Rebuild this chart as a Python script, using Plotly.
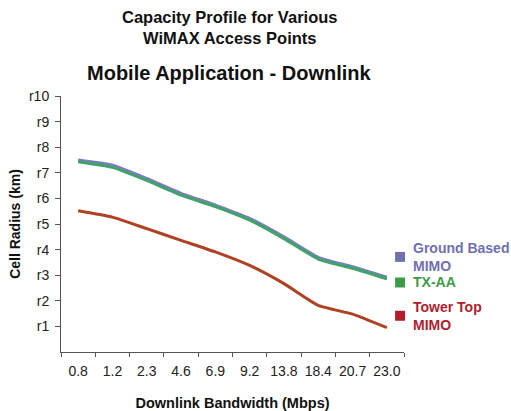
import plotly.graph_objects as go

# Downlink bandwidth categories (Mbps)
bandwidth = ["0.8", "1.2", "2.3", "4.6", "6.9", "9.2", "13.8", "18.4", "20.7", "23.0"]

# Cell radius (relative units r1..r10) per access point type
ground_based_mimo = [7.50, 7.30, 6.78, 6.20, 5.74, 5.22, 4.50, 3.70, 3.33, 2.92]
tx_aa = [7.43, 7.21, 6.70, 6.13, 5.68, 5.15, 4.43, 3.63, 3.27, 2.86]
tower_top_mimo = [5.52, 5.27, 4.82, 4.36, 3.91, 3.38, 2.67, 1.82, 1.48, 0.95]

y_ticks = list(range(1, 11))
y_tick_labels = [f"r{i}" for i in y_ticks]

series = [
    ("Ground Based<br>MIMO", ground_based_mimo, "#7c7cc0", "#7070b0"),
    ("TX-AA", tx_aa, "#3fa36a", "#3d9b47"),
    ("Tower Top<br>MIMO", tower_top_mimo, "#ae4222", "#b01e2e"),
]

fig = go.Figure()
for name, vals, line_col, _ in series:
    fig.add_trace(go.Scatter(
        x=bandwidth, y=vals, mode="lines", name=name,
        line=dict(color=line_col, width=3, shape="spline", smoothing=0.5),
        showlegend=False, hoverinfo="x+y",
    ))

font = "Liberation Sans, Arial, sans-serif"

# Legend drawn as coloured squares with labels beside the line ends
legend_y = [0.37, 0.27, 0.14]
for (name, _, _, col), ly in zip(series, legend_y):
    fig.add_shape(type="rect", xref="paper", yref="paper",
                  x0=1.0 - 0.026, x1=1.003, y0=ly - 0.018, y1=ly + 0.021,
                  fillcolor=col, line=dict(width=0))
    fig.add_annotation(xref="paper", yref="paper", x=1.02, y=ly + 0.002,
                       text=f"<b>{name}</b>", showarrow=False, xanchor="left",
                       yanchor="middle", align="left",
                       font=dict(family=font, size=14, color=col))

fig.add_annotation(xref="paper", yref="paper", x=0.49, y=1.268,
                   text="<b>Capacity Profile for Various<br>WiMAX Access Points</b>",
                   showarrow=False, xanchor="center", yanchor="middle",
                   font=dict(family=font, size=16.5, color="#111"))
fig.add_annotation(xref="paper", yref="paper", x=0.49, y=1.09,
                   text="<b>Mobile Application - Downlink</b>",
                   showarrow=False, xanchor="center", yanchor="middle",
                   font=dict(family=font, size=20, color="#111"))

fig.update_layout(
    width=511, height=411,
    margin=dict(l=61, r=107, t=96, b=59),
    plot_bgcolor="white", paper_bgcolor="white",
    font=dict(family=font, size=14, color="#222"),
    xaxis=dict(
        type="category", range=[-0.5, 9.5], tickson="boundaries",
        ticks="outside", ticklen=4, ticklabelstandoff=6, tickangle=0,
        automargin=False,
        tickcolor="#555", showline=True, linecolor="#555", linewidth=1,
        showgrid=False, zeroline=False,
        title=dict(text="<b>Downlink Bandwidth (Mbps)</b>", standoff=21,
                   font=dict(size=14.5, color="#111")),
        tickfont=dict(size=14, color="#222"),
    ),
    yaxis=dict(
        range=[0, 10], tickvals=y_ticks, ticktext=y_tick_labels,
        ticks="outside", ticklen=5, tickcolor="#555", ticklabelstandoff=3,
        automargin=False,
        showline=True, linecolor="#555", linewidth=1,
        showgrid=False, zeroline=False,
        title=dict(text="<b>Cell Radius (km)</b>", standoff=5,
                   font=dict(size=14, color="#111")),
        tickfont=dict(size=14, color="#222"),
    ),
)

fig.write_html("out.html")
